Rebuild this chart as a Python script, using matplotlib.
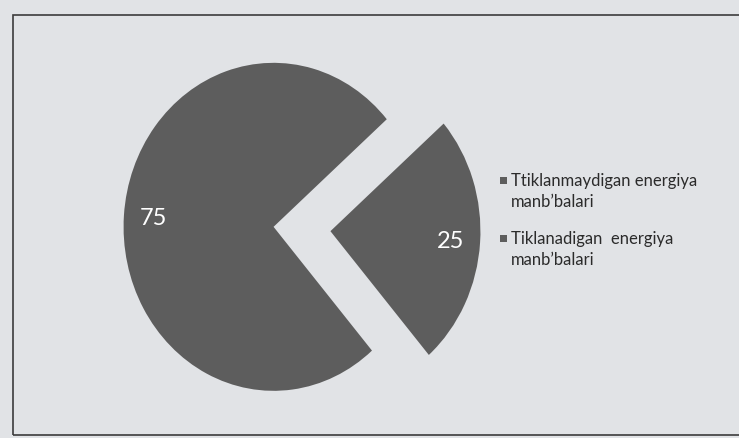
import matplotlib
matplotlib.use('Agg')
import matplotlib.pyplot as plt
from matplotlib.patches import Rectangle
from matplotlib.legend_handler import HandlerPatch

plt.rcParams['font.family'] = ['Lato', 'DejaVu Sans']

values = [75, 25]
names = ["Ttiklanmaydigan energiya\nmanb’balari",
         "Tiklanadigan  energiya\nmanb’balari"]
slice_colors = ['#5d5d5d', '#5d5d5d']
explode = [0.19, 0.19]

W, H = 739, 439
fig = plt.figure(figsize=(W / 100, H / 100), dpi=100, facecolor='#e1e3e6')

# pie box in pixels: centre (302, 230), slightly squeezed horizontally
cx, cy, rx, ry = 302, 230, 150, 164
lim = 1.3
ax = fig.add_axes([(cx - lim * rx) / W, (H - cy - lim * ry) / H,
                   2 * lim * rx / W, 2 * lim * ry / H])

wedges, texts, autotexts = ax.pie(
    values, explode=explode, startangle=-49, counterclock=False,
    colors=slice_colors,
    autopct=lambda p: f'{p * sum(values) / 100:.0f}', pctdistance=0.8,
    textprops=dict(color='white', fontsize=17))
ax.set_aspect('auto')
ax.set_xlim(-lim, lim)
ax.set_ylim(-lim, lim)
ax.axis('off')


def top_square(legend, orig_handle, xdescent, ydescent, width, height, fontsize):
    # small square level with the first line of a two-line label
    s = 0.42 * fontsize
    top = height - ydescent
    return Rectangle((-xdescent, top - 0.22 * fontsize - s / 2), s, s)


leg = ax.legend(wedges, names, loc='upper left',
                bbox_to_anchor=(500 / W, 1 - 173 / H),
                bbox_transform=fig.transFigure,
                frameon=False, fontsize=12, handlelength=0.45, handleheight=2.35,
                handletextpad=0.2, labelspacing=1.3, borderpad=0,
                borderaxespad=0, labelcolor='#2b2b2b',
                handler_map={w: HandlerPatch(patch_func=top_square) for w in wedges})
for t in leg.get_texts():
    t.set_linespacing(1.35)

# outer frame
fig.add_artist(Rectangle((13 / W, 3 / H), (W + 10) / W, 420 / H,
                         transform=fig.transFigure, fill=False,
                         edgecolor='#3c3c3c', lw=1.2))

fig.savefig('out.png', dpi=100, facecolor=fig.get_facecolor())
